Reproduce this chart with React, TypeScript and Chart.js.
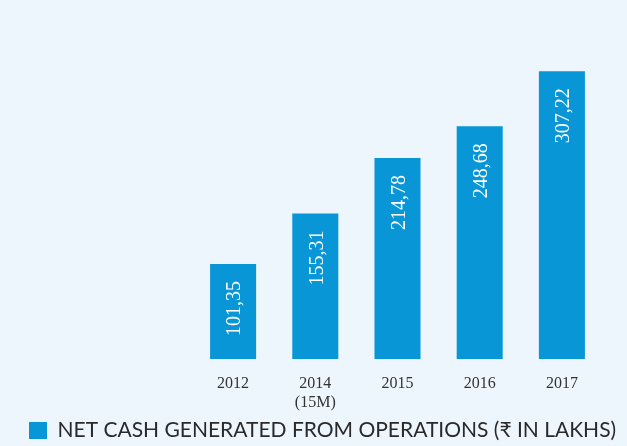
import React, { useEffect, useRef } from "react";
import { Chart, registerables } from "chart.js";

Chart.register(...registerables);

const categories: (string | string[])[] = ["2012", ["2014", "(15M)"], "2015", "2016", "2017"];
const cashValues: number[] = [101.35, 155.31, 214.78, 248.68, 307.22];
const seriesLabel = "NET CASH GENERATED FROM OPERATIONS (\u20B9 IN LAKHS)";

const BG = "#eef6fd";
const BAR = "#0896d6";

const valueLabelPlugin = {
  id: "valueLabels",
  afterDatasetsDraw(chart: any) {
    const ctx = chart.ctx;
    const meta = chart.getDatasetMeta(0);
    const data = chart.data.datasets[0].data as number[];
    ctx.save();
    ctx.fillStyle = "#ffffff";
    ctx.font = "20px 'Liberation Serif', serif";
    ctx.textAlign = "right";
    ctx.textBaseline = "middle";
    meta.data.forEach((bar: any, i: number) => {
      const txt = data[i].toFixed(2).replace(".", ",");
      ctx.save();
      ctx.translate(bar.x + 2, bar.y + 17);
      ctx.rotate(-Math.PI / 2);
      ctx.fillText(txt, 0, 0);
      ctx.restore();
    });
    ctx.restore();
  },
};

export default function App() {
  const ref = useRef<HTMLCanvasElement | null>(null);

  useEffect(() => {
    document.body.style.margin = "0";
    document.body.style.background = BG;
    if (!ref.current) return;
    const chart = new Chart(ref.current, {
      type: "bar",
      data: {
        labels: categories as any,
        datasets: [
          {
            label: seriesLabel,
            data: cashValues,
            backgroundColor: BAR,
            borderWidth: 0,
            barPercentage: 0.56,
            categoryPercentage: 1,
          },
        ],
      },
      options: {
        responsive: false,
        animation: false,
        layout: { padding: { top: 50, left: 29, right: 0, bottom: -5 } },
        plugins: {
          tooltip: { enabled: false },
          legend: {
            position: "bottom",
            align: "start",
            labels: {
              boxWidth: 18,
              boxHeight: 17,
              padding: 0,
              color: "#2a2a2a",
              font: { family: "Lato, 'Noto Sans', sans-serif", size: 21 },
            },
          },
        },
        scales: {
          x: {
            grid: { display: false, drawTicks: false },
            border: { display: false },
            ticks: {
              color: "#333333",
              padding: 15,
              font: { family: "'Liberation Serif', serif", size: 16, lineHeight: 1.2 },
            },
            afterFit: (s: any) => {
              s.height = 61;
            },
          },
          y: {
            min: 0,
            max: 330,
            grid: { display: false, drawTicks: false },
            border: { display: false },
            ticks: { display: false },
            afterFit: (s: any) => {
              s.width = 163;
            },
          },
          yRight: {
            position: "right",
            min: 0,
            max: 1,
            grid: { display: false, drawTicks: false },
            border: { display: false },
            ticks: { display: false },
            afterFit: (s: any) => {
              s.width = 24;
            },
          },
        },
      },
      plugins: [valueLabelPlugin],
    });
    return () => chart.destroy();
  }, []);

  return (
    <div style={{ width: 627, height: 446, background: BG }}>
      <canvas ref={ref} width={627} height={446} style={{ display: "block" }} />
    </div>
  );
}
